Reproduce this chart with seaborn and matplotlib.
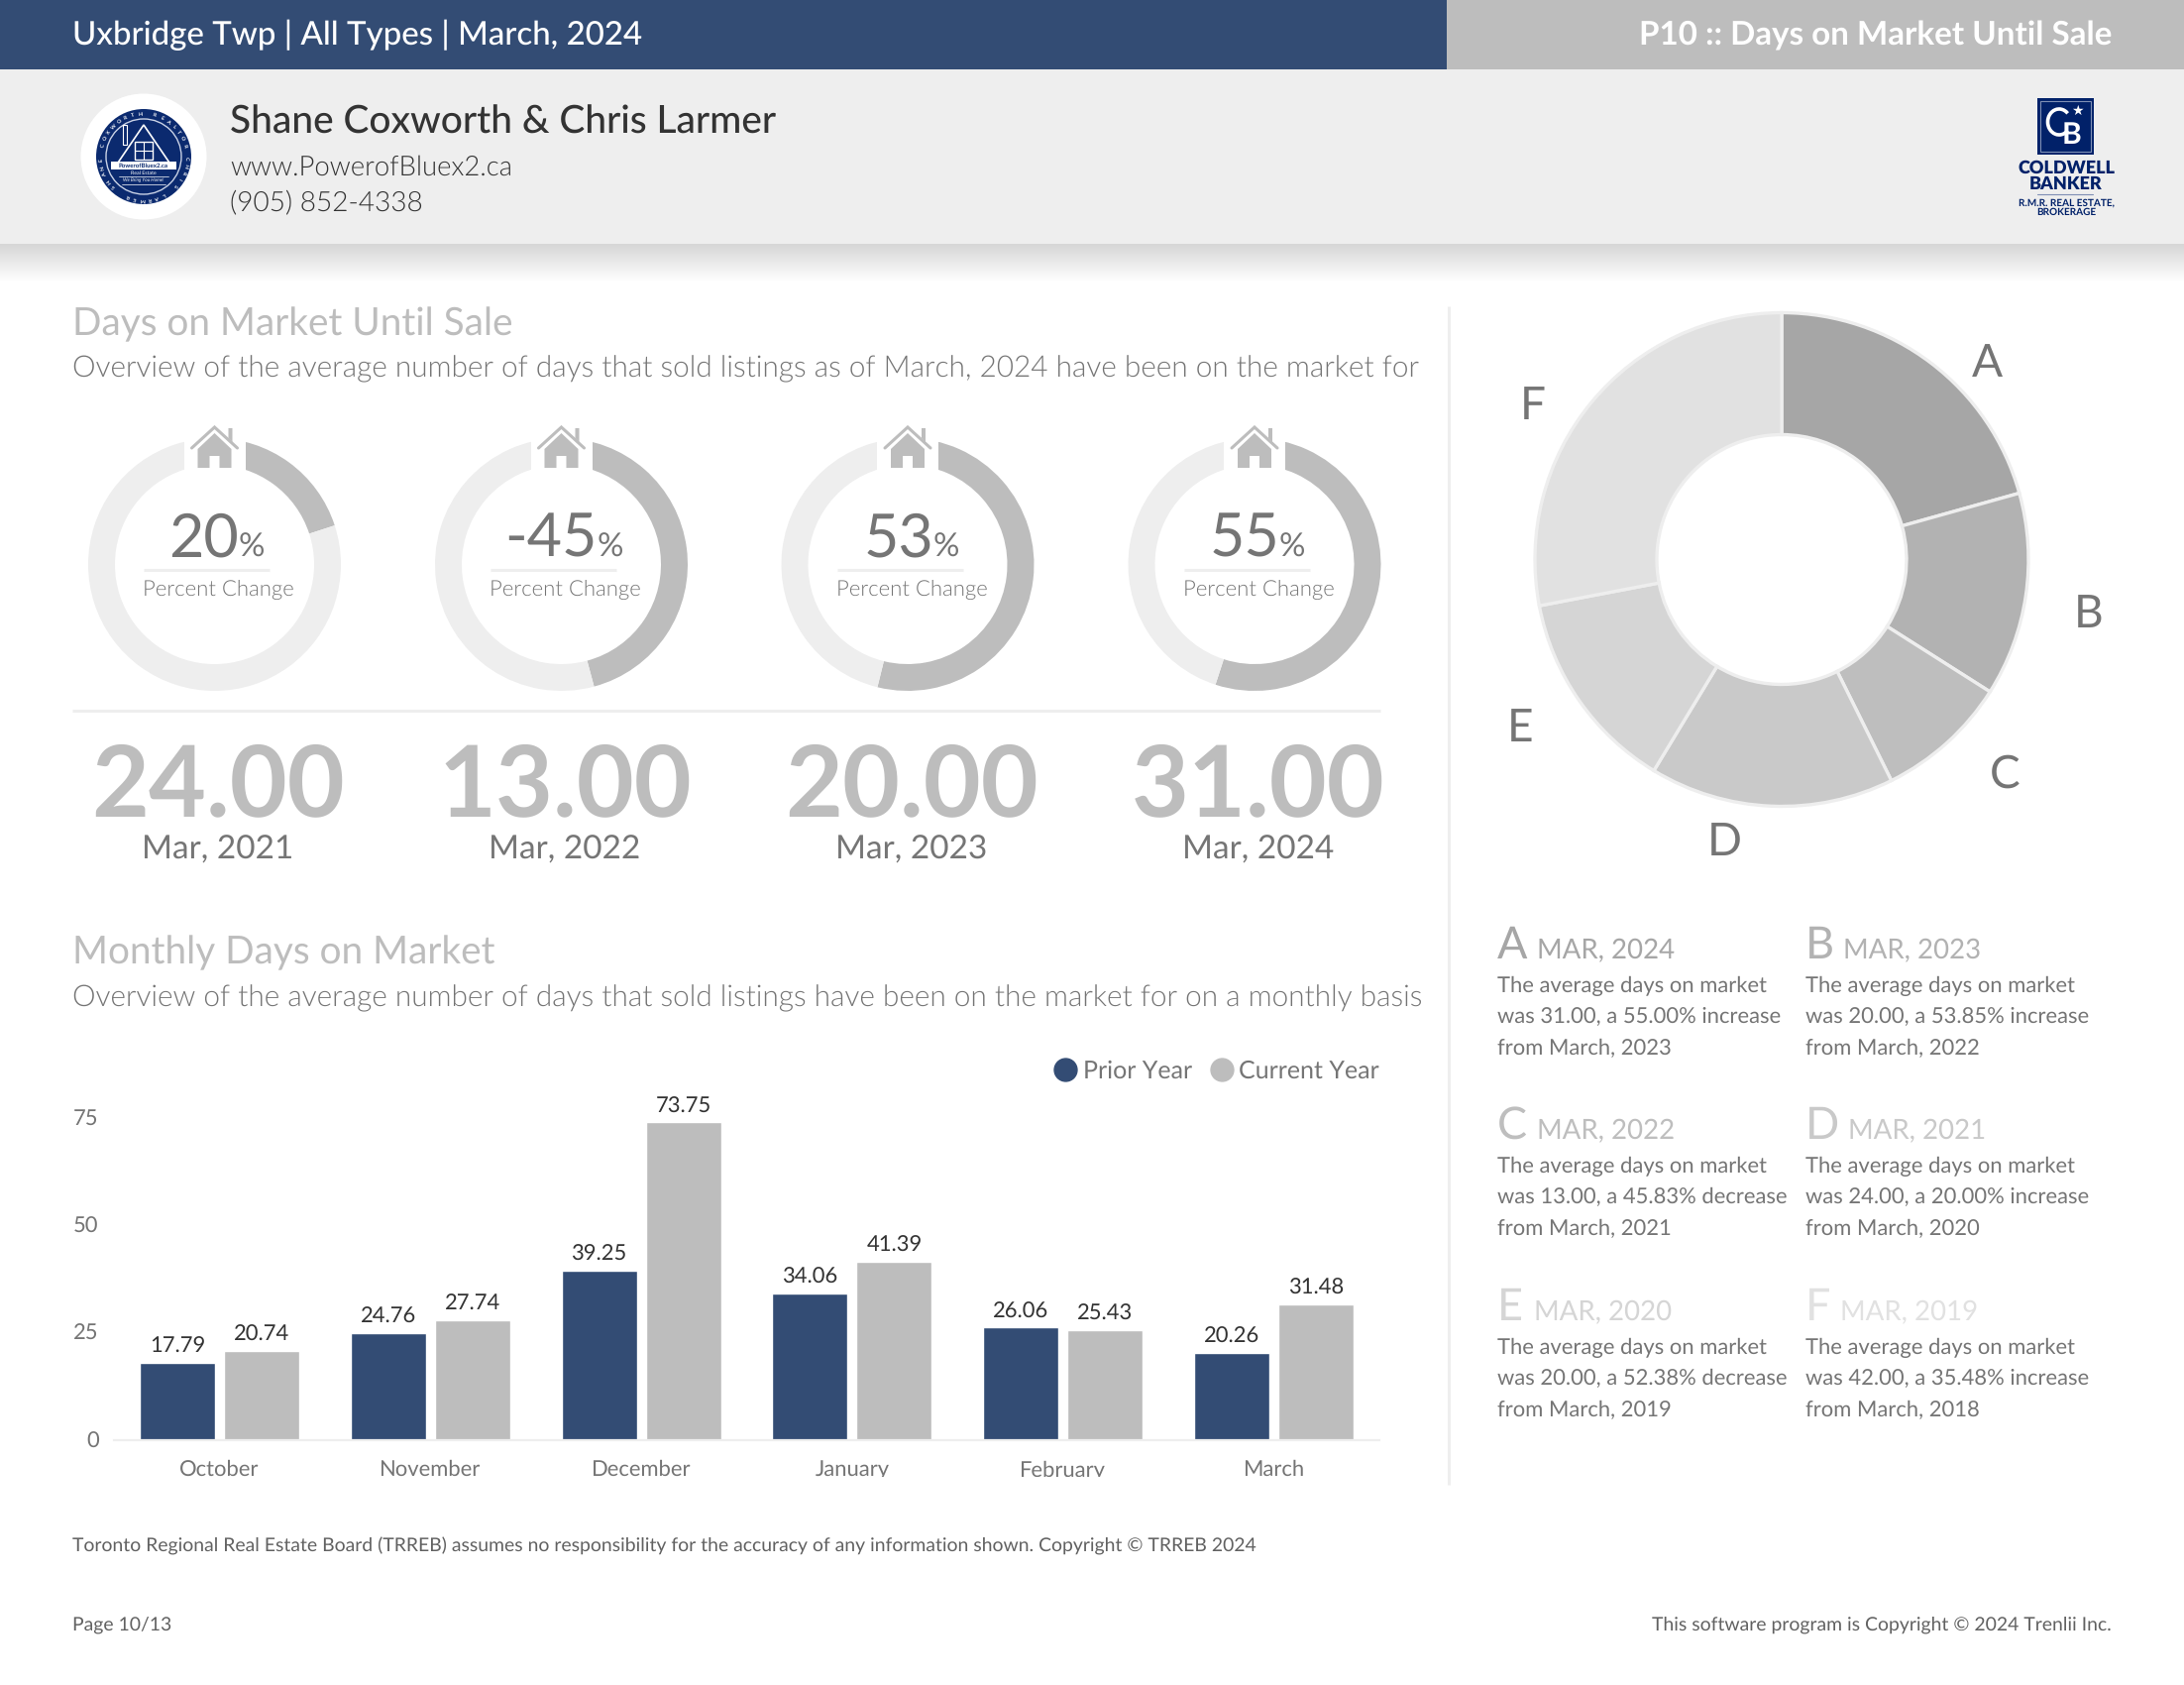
import numpy as np
import pandas as pd
import matplotlib
matplotlib.use("Agg")
import matplotlib.pyplot as plt
from matplotlib.colors import LinearSegmentedColormap
from matplotlib.lines import Line2D
from matplotlib.patches import Arc, Circle, Polygon, Rectangle
from matplotlib.transforms import Bbox
import seaborn as sns

# data
months = ["October", "November", "December", "January", "February", "March"]
prior_year = [17.79, 24.76, 39.25, 34.06, 26.06, 20.26]
current_year = [20.74, 27.74, 73.75, 41.39, 25.43, 31.48]
y_ticks = [0, 25, 50, 75]

gauge_pct = [20.00, 45.83, 53.85, 55.00]
gauge_labels = ["20", "-45", "53", "55"]
gauge_values = ["24.00", "13.00", "20.00", "31.00"]
gauge_dates = ["Mar, 2021", "Mar, 2022", "Mar, 2023", "Mar, 2024"]

pie_letters = ["A", "B", "C", "D", "E", "F"]
pie_values = [31, 20, 13, 24, 20, 42]
pie_dates = ["MAR, 2024", "MAR, 2023", "MAR, 2022", "MAR, 2021", "MAR, 2020", "MAR, 2019"]
pie_lines = [
    ["The average days on market", "was 31.00, a 55.00% increase", "from March, 2023"],
    ["The average days on market", "was 20.00, a 53.85% increase", "from March, 2022"],
    ["The average days on market", "was 13.00, a 45.83% decrease", "from March, 2021"],
    ["The average days on market", "was 24.00, a 20.00% increase", "from March, 2020"],
    ["The average days on market", "was 20.00, a 52.38% decrease", "from March, 2019"],
    ["The average days on market", "was 42.00, a 35.48% increase", "from March, 2018"],
]
pie_colors = ["#A6A6A6", "#B2B2B2", "#BEBEBE", "#C9C9C9", "#D5D5D5", "#E1E1E1"]

NAVY = "#334C74"
GREY = "#BDBDBD"
LIGHT = "#EEEEEE"
TEXT = "#757575"
W, H = 2204, 1700

sns.set_theme(style="white")
plt.rcParams["font.family"] = ["Lato", "DejaVu Sans"]
plt.rcParams["text.hinting"] = "none"
plt.rcParams["text.hinting_factor"] = 8


def fs(px):
    return px * 0.72


def px_axes(x0, y0, x1, y1, **kw):
    return fig.add_axes([x0 / W, 1 - y1 / H, (x1 - x0) / W, (y1 - y0) / H], **kw)


fig = plt.figure(figsize=(W / 100, H / 100), dpi=100, facecolor="white")

# page layer, in pixels
page = px_axes(0, 0, W, H, zorder=5)
page.axis("off")
page.patch.set_alpha(0)


def put(x, y, s, px, color=TEXT, weight=400, ha="left", **kw):
    return page.text(x, y, s, fontsize=fs(px), color=color, fontweight=weight, ha=ha, va="baseline", **kw)


def ring_text(cx, cy, r, s, start, step, px=5.5):
    # small lettering round the seal
    for k, ch in enumerate(s):
        a = np.radians(start + k * step)
        page.text(cx + r * np.sin(a), cy - r * np.cos(a), ch, fontsize=fs(px), color="white",
                  rotation=-(start + k * step), ha="center", va="center", zorder=5, fontweight=700)


# header
page.add_patch(Rectangle((0, 0), 1460, 70, color=NAVY, lw=0))
page.add_patch(Rectangle((1460, 0), W - 1460, 70, color=GREY, lw=0))
page.add_patch(Rectangle((0, 70), W, 176, color=LIGHT, lw=0))
shade = np.linspace(0, 1, 40)[:, None]
page.imshow(shade, cmap=LinearSegmentedColormap.from_list("s", ["#D6D6D6", "#FFFFFF"]),
            extent=(0, W, 284, 246), aspect="auto", zorder=1)
page.set_xlim(0, W)
page.set_ylim(H, 0)

put(73, 45, "Uxbridge Twp | All Types | March, 2024", 33, "white", 500)
put(2131, 45, "P10 :: Days on Market Until Sale", 33.2, "white", 700, ha="right")
put(232, 134.5, "Shane Coxworth & Chris Larmer", 38.9, "#333333", 500)
put(232, 176.5, "www.PowerofBluex2.ca", 27.5, "#333333", 300)
put(232, 213.5, "(905) 852-4338", 28, "#333333", 300)

# left logo
LOGO = "#0B2A6F"
page.add_patch(Circle((145, 158), 63.5, color="white", lw=0, zorder=2))
page.add_patch(Circle((145, 158), 48, color=LOGO, lw=0, zorder=3))
page.add_patch(Circle((145, 158), 38, fill=False, ec="#C9D2E6", lw=1, zorder=4))
page.add_patch(Polygon([(145, 126), (115, 170), (175, 170)], closed=True, fill=False, ec="white", lw=1.2, zorder=4))
page.add_patch(Rectangle((124, 126), 4, 20, fill=False, ec="white", lw=0.8, zorder=4))
page.add_patch(Rectangle((136, 143), 18, 18, fill=False, ec="white", lw=1, zorder=4))
page.plot([145, 145], [143, 161], color="white", lw=0.8, zorder=4)
page.plot([136, 154], [152, 152], color="white", lw=0.8, zorder=4)
page.add_patch(Rectangle((112, 163), 66, 8, color="white", lw=0, zorder=4))
page.text(145, 167, "PowerofBluex2.ca", fontsize=4.4, color=LOGO, fontweight=700, ha="center", va="center", zorder=5)
page.text(145, 174.5, "Real Estate", fontsize=3.8, color="white", ha="center", va="center", zorder=5)
page.plot([120, 170], [178, 178], color="white", lw=0.5, zorder=4)
page.text(145, 182, "We Bring You Home!", fontsize=3.4, color="white", style="italic", ha="center", va="center", zorder=5)
page.plot([123, 167], [186, 186], color="white", lw=0.5, zorder=4)
ring_text(145, 158, 43, "SHANE COXWORTH", 225, 10)
ring_text(145, 158, 43, "REALTOR", 15, 10)
ring_text(145, 158, 43, "CHRIS LARMER", 92, 10)

# right logo
CB = "#012169"
page.add_patch(Rectangle((2056, 99), 57, 57, color=CB, lw=0))
page.add_patch(Rectangle((2059, 102), 51, 51, fill=False, ec="#7F8FB4", lw=0.8))
page.add_patch(Arc((2078, 123), 23, 26, theta1=45, theta2=315, color="white", lw=2.6))
page.text(2090, 136, "B", fontsize=fs(30), color="white", fontweight=700, ha="center", va="center")
page.text(2096, 112, "★", fontsize=fs(14), color="white", ha="center", va="center", family="DejaVu Sans")
page.text(2085, 175, "COLDWELL", fontsize=fs(18), color=CB, fontweight=800, ha="center", va="baseline")
page.text(2085, 191, "BANKER", fontsize=fs(18), color=CB, fontweight=800, ha="center", va="baseline")
page.plot([2056, 2112], [196, 196], color="#7F8FB4", lw=0.8)
page.text(2085, 208, "R.M.R. REAL ESTATE,", fontsize=fs(10), color=CB, fontweight=700, ha="center", va="baseline")
page.text(2085, 217, "BROKERAGE", fontsize=fs(10), color=CB, fontweight=700, ha="center", va="baseline")

# section headings
put(73, 338, "Days on Market Until Sale", 38.8, GREY)
put(73, 380, "Overview of the average number of days that sold listings as of March, 2024 have been on the market for", 29.7, TEXT, 300)
put(73, 972, "Monthly Days on Market", 38.8, GREY)
put(73, 1015, "Overview of the average number of days that sold listings have been on the market for on a monthly basis", 29.7, TEXT, 300)

page.plot([73, 1393], [717, 717], color=LIGHT, lw=2.2, solid_capstyle="butt")
page.plot([1462, 1462], [309, 1498], color=LIGHT, lw=2.2, solid_capstyle="butt")

# gauges
ring_x = [216.5, 566.5, 916, 1266]
text_x = [220, 570, 920, 1270]
split_x = [241, 603, 942, 1291]
R = 127.5
for i, pct in enumerate(gauge_pct):
    ax = px_axes(ring_x[i] - R * 1.02, 569.5 - R * 1.02, ring_x[i] + R * 1.02, 569.5 + R * 1.02)
    ax.pie([pct, 100 - pct], colors=[GREY, LIGHT], startangle=90, counterclock=False,
           radius=1, wedgeprops={"width": 27 / R, "linewidth": 0})
    ax.set_xlim(-1.02, 1.02)
    ax.set_ylim(-1.02, 1.02)

    cx = ring_x[i]
    page.add_patch(Rectangle((cx - 31, 435), 62, 45, color="white", lw=0, zorder=2))
    # house icon
    page.plot([cx - 23, cx, cx + 23], [452, 431, 452], color=GREY, lw=2.2, zorder=3, solid_joinstyle="miter")
    page.add_patch(Polygon([(cx + 14, 432), (cx + 18, 432), (cx + 18, 446), (cx + 14, 442)], color=GREY, lw=0, zorder=3))
    page.add_patch(Polygon([(cx - 17, 453), (cx, 437), (cx + 17, 453), (cx + 17, 472), (cx + 5, 472), (cx + 5, 460),
                            (cx - 5, 460), (cx - 5, 472), (cx - 17, 472)], color=GREY, lw=0, zorder=3))

    put(split_x[i], 562, gauge_labels[i], 61, TEXT, ha="right", zorder=4)
    put(split_x[i], 562, "%", 33, TEXT, zorder=4)
    page.plot([text_x[i] - 75, text_x[i] + 52], [575, 575], color=LIGHT, lw=2.2, solid_capstyle="butt", zorder=4)
    put(text_x[i], 601, "Percent Change", 22.2, TEXT, 300, ha="center", zorder=4)
    put(text_x[i], 823, gauge_values[i], 100, GREY, 700, ha="center", zorder=4)
    put(text_x[i], 867, gauge_dates[i], 33.4, TEXT, ha="center", zorder=4)

# main donut
RM = 249
ax = px_axes(1798 - RM * 1.02, 564.5 - RM * 1.02, 1798 + RM * 1.02, 564.5 + RM * 1.02)
ax.pie(pie_values, colors=pie_colors, startangle=90, counterclock=False, radius=1,
       wedgeprops={"width": 1 - 126 / RM, "edgecolor": LIGHT, "linewidth": 2.4})
ax.set_xlim(-1.02, 1.02)
ax.set_ylim(-1.02, 1.02)

letter_pos = [(2005, 367), (2108, 620), (2023, 782), (1740, 850), (1534, 735), (1547, 410)]
for (x, y), s in zip(letter_pos, pie_letters):
    page.text(x, y, s, fontsize=fs(46), color=TEXT, ha="center", va="center")

# legend text blocks
block_x = [1511, 1822]
block_y = [967, 1149, 1332]
title_off = [40, 38, 40, 43, 37, 35]
for i, letter in enumerate(pie_letters):
    x = block_x[i % 2]
    y = block_y[i // 2]
    put(x, y, letter, 45, pie_colors[i])
    put(x + title_off[i], y, pie_dates[i], 27.6, pie_colors[i])
    for j, line in enumerate(pie_lines[i]):
        put(x, y + 34 + 31.5 * j, line, 22, TEXT)

# bar chart
df = pd.DataFrame({
    "month": months * 2,
    "days": prior_year + current_year,
    "series": ["Prior Year"] * 6 + ["Current Year"] * 6,
})
ax = px_axes(115, 1106, 1392, 1452.5)
sns.barplot(data=df, x="month", y="days", hue="series", order=months,
            hue_order=["Prior Year", "Current Year"], palette=[NAVY, GREY],
            width=0.799, gap=0.106, saturation=1, ax=ax)
ax.set_xlim(-0.5, 5.5)
ax.set_ylim(0, 346.5 / 4.339)
ax.set_xlabel("")
ax.set_ylabel("")
ax.set_yticks(y_ticks)
ax.tick_params(axis="both", length=0, labelsize=fs(22), labelcolor=TEXT)
ax.tick_params(axis="x", pad=14.5)
ax.tick_params(axis="y", pad=11)
sns.despine(ax=ax, left=True)
ax.spines["bottom"].set_color(LIGHT)
ax.spines["bottom"].set_linewidth(1.6)
for bars in ax.containers:
    ax.bar_label(bars, fmt="%.2f", padding=4.5, fontsize=fs(22), color="#333333")
# the month names are cut off at the foot of the chart in the original
for lab in ax.get_xticklabels():
    lab.set_clip_box(Bbox([[0, H - 1490], [W, H]]))
    lab.set_clip_on(True)

handles = [Line2D([], [], marker="o", ls="", ms=16.5, color=NAVY),
           Line2D([], [], marker="o", ls="", ms=16.5, color=GREY)]
ax.legend(handles, ["Prior Year", "Current Year"], ncol=2, frameon=False, loc="lower right",
          bbox_to_anchor=(1.0, 1.041), fontsize=fs(25), labelcolor=TEXT, borderpad=0, borderaxespad=0,
          handletextpad=0.1, columnspacing=0.6, handlelength=1.2)

# footer
put(73, 1566, "Toronto Regional Real Estate Board (TRREB) assumes no responsibility for the accuracy of any information shown. Copyright © TRREB 2024", 19.4, "#616161")
put(73, 1645, "Page 10/13", 19.4, "#616161")
put(2131, 1645, "This software program is Copyright © 2024 Trenlii Inc.", 19.4, "#616161", ha="right")

fig.savefig("out.png", dpi=100, facecolor="white")
